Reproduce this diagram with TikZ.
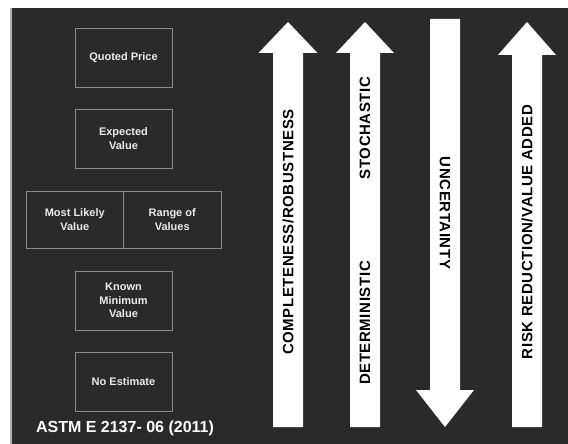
\documentclass[tikz,border=0pt]{standalone}
\usepackage{fontspec}
\setmainfont{Liberation Sans}
\usepackage{tikz}
\definecolor{bgdark}{HTML}{2A2A2A}
\definecolor{boxline}{HTML}{8C8C8C}
\tikzset{
  levelbox/.style={draw=boxline, line width=0.8pt, text=white!92!black, align=center,
    inner sep=0pt, minimum width=97pt, minimum height=59pt,
    font=\fontsize{11}{13.5}\selectfont\bfseries},
  arrowlabel/.style={text=black, inner sep=0pt,
    font=\fontsize{15}{17}\selectfont\bfseries\addfontfeature{LetterSpace=4}}
}
\begin{document}
\begin{tikzpicture}[x=1pt,y=-1pt]
        \useasboundingbox (0,0) rectangle (568,444);
        \fill[white] (0,0) rectangle (568,444);
        \fill[bgdark] (12,8) rectangle (568,444);
        \draw[gray!60, line width=1.5pt] (11,8) -- (11,444);

        % estimate levels
        \node[levelbox] (quoted) at (123.5,57.5) {Quoted Price};
        \node[levelbox] (expected) at (123.5,138.5) {Expected\\Value};
        \node[levelbox, minimum width=97.5pt, minimum height=57pt] (likely) at (74.75,219.5) {Most Likely\\Value};
        \node[levelbox, minimum width=97.5pt, minimum height=57pt] (range) at (172.25,219.5) {Range of\\Values};
        \node[levelbox] (known) at (123.5,300.5) {Known\\Minimum\\Value};
        \node[levelbox] (noest) at (123.5,381.5) {No Estimate};
        \node[text=white, font=\fontsize{16}{18}\selectfont\bfseries] (astm) at (125,428) {ASTM E 2137- 06 (2011)};

        % arrows
        \fill[white] (273,427) -- (273,53) -- (258.5,53) -- (288,22) -- (317.5,53) -- (303,53) -- (303,427) -- cycle;
        \fill[white] (350,427) -- (350,53) -- (336,53) -- (365,22) -- (394,53) -- (380,53) -- (380,427) -- cycle;
        \fill[white] (430,19) -- (430,390) -- (416,390) -- (445,427) -- (474,390) -- (460,390) -- (460,19) -- cycle;
        \fill[white] (512,427) -- (512,55) -- (498,55) -- (527,22) -- (556,55) -- (542,55) -- (542,427) -- cycle;

        \node[arrowlabel, rotate=90] (complete) at (288,232) {COMPLETENESS/ROBUSTNESS};
        \node[arrowlabel, rotate=90] (stoch) at (365,128) {STOCHASTIC};
        \node[arrowlabel, rotate=90] (determ) at (365,323) {DETERMINISTIC};
        \node[arrowlabel, rotate=-90] (uncert) at (445,213) {UNCERTAINTY};
        \node[arrowlabel, rotate=90] (risk) at (527,232) {RISK REDUCTION/VALUE ADDED};
\end{tikzpicture}
\end{document}
